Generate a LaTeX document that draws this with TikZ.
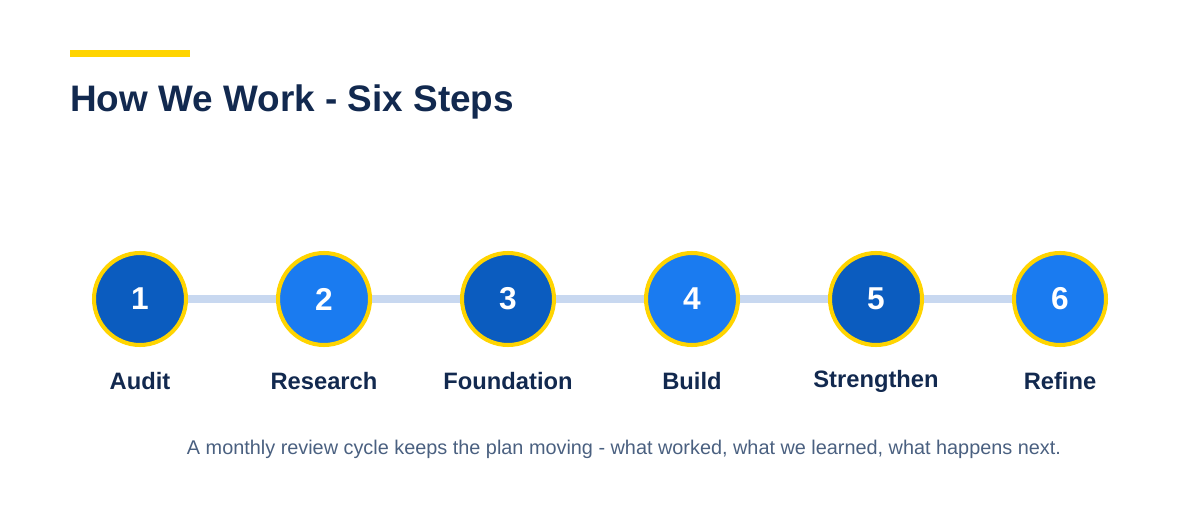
\documentclass[tikz,border=0pt]{standalone}
\usepackage{fontspec}
\setmainfont{Liberation Sans}
\usetikzlibrary{positioning,calc}
\definecolor{navy}{HTML}{12294F}
\definecolor{gold}{HTML}{FFD400}
\definecolor{darkblue}{HTML}{0B5CBF}
\definecolor{lightblue}{HTML}{1A7BF0}
\definecolor{track}{HTML}{C8D8F0}
\definecolor{note}{HTML}{4A6080}
\begin{document}
\begin{tikzpicture}[x=0.02cm,y=-0.02cm,
  stepdot/.style={circle,draw=gold,line width=2.3pt,minimum size=1.84cm,inner sep=0pt,
    text=white,font=\fontsize{18}{20}\selectfont\bfseries},
  steplabel/.style={text=navy,font=\fontsize{13.5}{15}\selectfont\bfseries}]
\useasboundingbox (0,0) rectangle (1200,520);
\fill[gold] (70,50) rectangle (190,57);
\node[anchor=base west,text=navy,font=\fontsize{21}{24}\selectfont\bfseries,inner sep=0pt] (title) at (70,112) {How We Work - Six Steps};
\draw[track,line width=4.5pt] (140,299) -- (1060,299);
\foreach \n/\x/\c/\lbl in {1/140/darkblue/Audit,2/324/lightblue/Research,3/508/darkblue/Foundation,
  4/692/lightblue/Build,5/876/darkblue/Strengthen,6/1060/lightblue/Refine}{
  \node[stepdot,fill=\c] (s\n) at (\x,299) {\n};
  \node[steplabel] (l\n) at (\x,381) {\lbl};
}
\node[text=note,font=\fontsize{11.3}{13}\selectfont] (foot) at (624,449) {A monthly review cycle keeps the plan moving - what worked, what we learned, what happens next.};
\end{tikzpicture}
\end{document}
